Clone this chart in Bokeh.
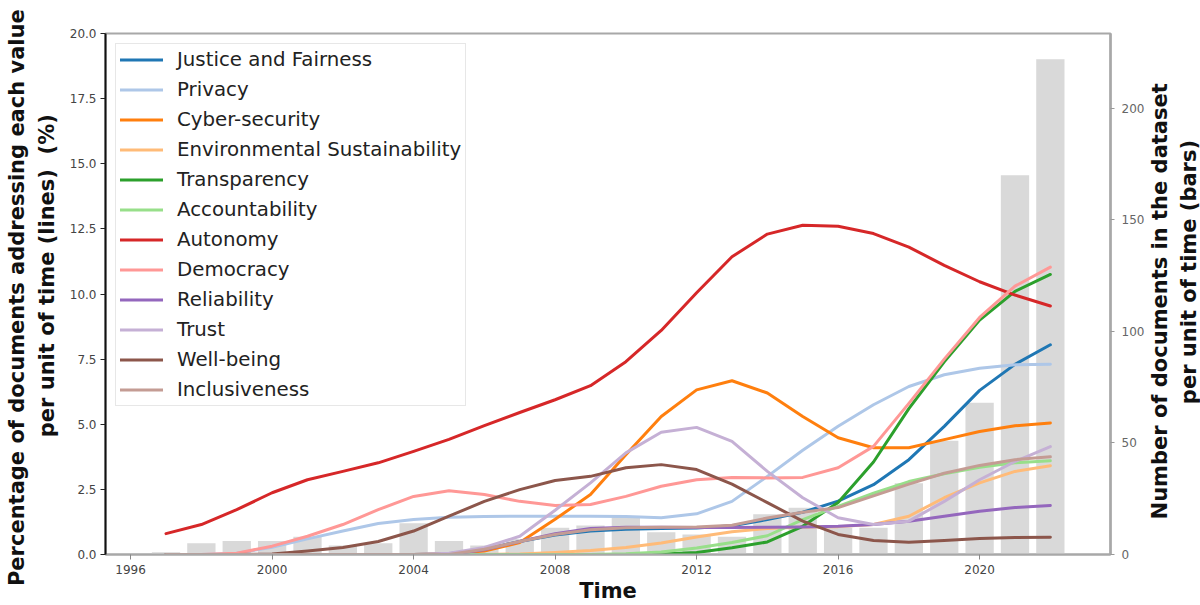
from bokeh.plotting import figure
from bokeh.layouts import row
from bokeh.models import (Range1d, LinearAxis, FixedTicker, NumeralTickFormatter,
                          Legend, LegendItem)
from bokeh.embed import file_html
from bokeh.resources import INLINE

years = list(range(1997, 2023))

doc_counts = [1, 5, 6, 6, 8, 4, 5, 14, 6, 4, 7, 12, 13, 17, 10, 9, 8, 18, 21, 12, 12, 32, 51, 68, 170, 222]

justice = [0, 0, 0, 0, 0, 0, 0, 0, 0.03, 0.2, 0.5, 0.75, 0.9, 0.97, 1.0, 1.02, 1.1, 1.34, 1.62, 2.05, 2.68, 3.64, 4.92, 6.3, 7.3, 8.05]
privacy = [0, 0, 0.05, 0.28, 0.6, 0.9, 1.19, 1.34, 1.43, 1.46, 1.47, 1.47, 1.47, 1.46, 1.41, 1.56, 2.04, 3.0, 4.0, 4.92, 5.75, 6.45, 6.9, 7.15, 7.28, 7.3]
cyber = [0, 0, 0, 0, 0, 0, 0, 0, 0.03, 0.13, 0.46, 1.35, 2.3, 3.83, 5.3, 6.32, 6.67, 6.2, 5.3, 4.48, 4.1, 4.1, 4.41, 4.72, 4.94, 5.05]
environment = [0, 0, 0, 0, 0, 0, 0, 0, 0, 0, 0.02, 0.08, 0.15, 0.27, 0.44, 0.67, 0.87, 1.0, 1.06, 1.07, 1.15, 1.47, 2.18, 2.75, 3.19, 3.41]
transparency = [0, 0, 0, 0, 0, 0, 0, 0, 0, 0, 0, 0, 0, 0, 0.02, 0.08, 0.26, 0.48, 1.08, 2.0, 3.55, 5.6, 7.4, 9.0, 10.1, 10.75]
accountability = [0, 0, 0, 0, 0, 0, 0, 0, 0, 0, 0, 0, 0, 0.03, 0.1, 0.25, 0.46, 0.72, 1.34, 1.85, 2.35, 2.8, 3.1, 3.35, 3.52, 3.6]
autonomy = [0.8, 1.15, 1.72, 2.37, 2.87, 3.19, 3.52, 3.96, 4.42, 4.95, 5.45, 5.94, 6.48, 7.4, 8.6, 10.05, 11.43, 12.3, 12.64, 12.6, 12.32, 11.8, 11.1, 10.47, 9.96, 9.54]
democracy = [0, 0, 0.05, 0.32, 0.7, 1.15, 1.72, 2.23, 2.45, 2.3, 2.04, 1.88, 1.92, 2.23, 2.62, 2.87, 2.96, 2.94, 2.96, 3.33, 4.15, 5.8, 7.5, 9.1, 10.3, 11.03]
reliability = [0, 0, 0, 0, 0, 0, 0, 0, 0, 0.18, 0.5, 0.8, 1.0, 1.05, 1.05, 1.04, 1.04, 1.05, 1.06, 1.08, 1.15, 1.28, 1.47, 1.66, 1.8, 1.88]
trust = [0, 0, 0, 0, 0, 0, 0, 0, 0.05, 0.27, 0.7, 1.7, 2.75, 3.9, 4.69, 4.88, 4.34, 3.19, 2.18, 1.41, 1.15, 1.28, 2.04, 2.87, 3.57, 4.14]
wellbeing = [0, 0, 0, 0.02, 0.13, 0.27, 0.5, 0.9, 1.47, 2.04, 2.49, 2.84, 3.0, 3.33, 3.45, 3.26, 2.7, 1.99, 1.28, 0.77, 0.54, 0.47, 0.54, 0.61, 0.65, 0.66]
inclusiveness = [0, 0, 0, 0, 0, 0, 0, 0, 0, 0.2, 0.5, 0.77, 0.95, 1.03, 1.05, 1.06, 1.12, 1.4, 1.62, 1.8, 2.25, 2.7, 3.12, 3.42, 3.64, 3.75]

series_names = ["Justice and Fairness", "Privacy", "Cyber-security", "Environmental Sustainability",
                "Transparency", "Accountability", "Autonomy", "Democracy", "Reliability", "Trust",
                "Well-being", "Inclusiveness"]
series_values = [justice, privacy, cyber, environment, transparency, accountability, autonomy,
                 democracy, reliability, trust, wellbeing, inclusiveness]
series_colors = ["#1f77b4", "#aec7e8", "#ff7f0e", "#ffbb78", "#2ca02c", "#98df8a", "#d62728",
                 "#ff9896", "#9467bd", "#c5b0d5", "#8c564b", "#c49c94"]

x_ticks = [1996, 2000, 2004, 2008, 2012, 2016, 2020]
left_ticks = [0, 2.5, 5, 7.5, 10, 12.5, 15, 17.5, 20]
right_ticks = [0, 50, 100, 150, 200]

NB = "\u00a0"
left_title = ("Percentage of documents addressing each value" + NB + "\n"
              + NB * 5 + "per unit of time (lines)" + NB * 2 + "(%)")
right_title = ("Number of documents in the dataset" + NB * 2 + "\n"
               + NB * 6 + "per unit of time (bars)")
x_title = "Time"

FONT = "DejaVu Sans"
H = 605
RIGHT_W = 52
MAIN_W = 1200 - RIGHT_W

p = figure(width=MAIN_W, height=H, output_backend="svg", toolbar_location=None,
           x_range=Range1d(1995.29, 2023.70), y_range=Range1d(0, 20),
           min_border_left=105, min_border_right=MAIN_W - 1110, min_border_top=33,
           min_border_bottom=50)
p.extra_y_ranges = {"bars": Range1d(0, 233.6)}
p.xgrid.visible = False
p.ygrid.visible = False
p.outline_line_color = "#a8a8a8"
p.outline_line_width = 2
p.background_fill_color = "white"
p.border_fill_color = "white"

p.vbar(x=years, top=doc_counts, width=0.8, y_range_name="bars",
       fill_color="#d9d9d9", line_color=None)

items = []
for name, vals, col in zip(series_names, series_values, series_colors):
    r = p.line(years, vals, line_color=col, line_width=3, line_join="round", line_cap="round")
    items.append(LegendItem(label=name, renderers=[r]))

# left axis
ya = p.yaxis[0]
ya.ticker = FixedTicker(ticks=left_ticks)
ya.formatter = NumeralTickFormatter(format="0.0")
ya.minor_tick_line_color = None
ya.major_tick_in = 0
ya.major_tick_out = 5
ya.major_tick_line_color = "#222222"
ya.axis_line_color = "#111111"
ya.axis_line_width = 2
ya.major_label_text_font = FONT
ya.major_label_text_font_size = "12px"
ya.major_label_text_color = "#444444"
ya.major_label_standoff = 4
ya.axis_label = left_title
ya.axis_label_text_font = FONT
ya.axis_label_text_font_size = "21px"
ya.axis_label_text_font_style = "bold"
ya.axis_label_text_color = "#111111"
ya.axis_label_standoff = 8
ya.axis_label_text_line_height = 1.25

# bottom axis
xa = p.xaxis[0]
xa.ticker = FixedTicker(ticks=x_ticks)
xa.minor_tick_line_color = None
xa.major_tick_in = 0
xa.major_tick_out = 5
xa.major_tick_line_color = "#888888"
xa.axis_line_color = "#a8a8a8"
xa.axis_line_width = 2
xa.major_label_text_font = FONT
xa.major_label_text_font_size = "12px"
xa.major_label_text_color = "#444444"
xa.major_label_standoff = 5
xa.axis_label = x_title
xa.axis_label_text_font = FONT
xa.axis_label_text_font_size = "21px"
xa.axis_label_text_font_style = "bold"
xa.axis_label_text_color = "#111111"
xa.axis_label_standoff = 2

# right axis (bar counts)
ra = LinearAxis(y_range_name="bars", ticker=FixedTicker(ticks=right_ticks))
ra.minor_tick_line_color = None
ra.major_tick_in = 0
ra.major_tick_out = 4
ra.major_tick_line_color = "#999999"
ra.axis_line_color = "#a8a8a8"
ra.axis_line_width = 2.5
ra.major_label_text_font = FONT
ra.major_label_text_font_size = "12px"
ra.major_label_text_color = "#666666"
ra.major_label_standoff = 7
p.add_layout(ra, "right")

legend = Legend(items=items, location="top_left", margin=10, padding=4, spacing=7,
                label_standoff=14, glyph_width=43, glyph_height=21, label_height=21,
                label_text_font=FONT, label_text_font_size="19.8px", label_text_color="#222222",
                border_line_color="#d0d0d0", border_line_width=1.5,
                background_fill_color="white", background_fill_alpha=0.8)
p.add_layout(legend)

# narrow side figure whose (tick-less) left axis carries the right-hand title,
# so that it reads bottom-to-top like the reference
side = figure(width=RIGHT_W, height=H, output_backend="svg", toolbar_location=None,
              x_range=Range1d(0, 1), y_range=Range1d(0, 1),
              x_axis_location=None, y_axis_location="left",
              min_border_left=0, min_border_right=0, min_border_top=33, min_border_bottom=50)
side.grid.visible = False
side.outline_line_color = None
side.background_fill_color = "white"
side.border_fill_color = "white"
sa = side.yaxis[0]
sa.ticker = FixedTicker(ticks=[])
sa.axis_line_color = None
sa.major_tick_line_color = None
sa.minor_tick_line_color = None
sa.major_tick_out = 0
sa.major_label_standoff = 0
sa.axis_label = right_title
sa.axis_label_text_font = FONT
sa.axis_label_text_font_size = "21px"
sa.axis_label_text_font_style = "bold"
sa.axis_label_text_color = "#111111"
sa.axis_label_standoff = 0
sa.axis_label_text_line_height = 1.2

layout = row(p, side)
open("out.html", "w").write(file_html(layout, INLINE))
